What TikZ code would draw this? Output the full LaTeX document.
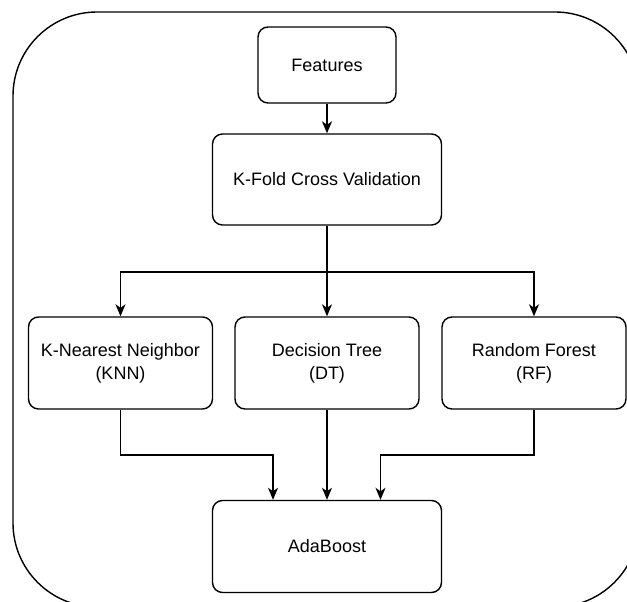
\documentclass[tikz,border=0pt]{standalone}
\usepackage{fontspec}
\setmainfont{Liberation Sans}
\usetikzlibrary{arrows.meta}
\begin{document}
\begin{tikzpicture}[x=1pt,y=-1pt,
  box/.style={draw, line width=1.4pt, rounded corners=10pt, align=center,
    font=\fontsize{18}{23}\selectfont, inner sep=0pt},
  wide/.style={box, minimum width=229pt, minimum height=91pt},
  model/.style={box, minimum width=184pt, minimum height=92pt},
  wire/.style={line width=1.4pt},
  link/.style={wire, -{Stealth[length=12pt,width=10pt,inset=3.5pt]}}]
\useasboundingbox (0,0) rectangle (627,602);
\clip (0,0) rectangle (627,602);

% outer frame
\draw[wire, rounded corners=84pt] (13,12) rectangle (639,607);

% boxes
\node[box, minimum width=138pt, minimum height=76pt] (feat) at (327,65) {Features};
\node[wide] (kfold) at (327,179.5) {K-Fold Cross Validation};
\node[model] (knn) at (120.5,363) {K-Nearest Neighbor\\(KNN)};
\node[model] (dt) at (327,363) {Decision Tree\\(DT)};
\node[model] (rf) at (534,363) {Random Forest\\(RF)};
\node[wide, minimum height=92pt] (ada) at (327,546.5) {AdaBoost};

% junction points
\coordinate (split) at (327,272);
\coordinate (jl) at (273,455);
\coordinate (jr) at (380.5,455);

% connectors
\draw[link] (feat) -- (kfold);
\draw[link] (kfold.south) -- (dt.north);
\draw[link] (split) -| (knn.north);
\draw[link] (split) -| (rf.north);
\draw[link] (knn.south) |- (jl) -- (jl |- ada.north);
\draw[link] (dt.south) -- (ada.north);
\draw[link] (rf.south) |- (jr) -- (jr |- ada.north);
\end{tikzpicture}
\end{document}
